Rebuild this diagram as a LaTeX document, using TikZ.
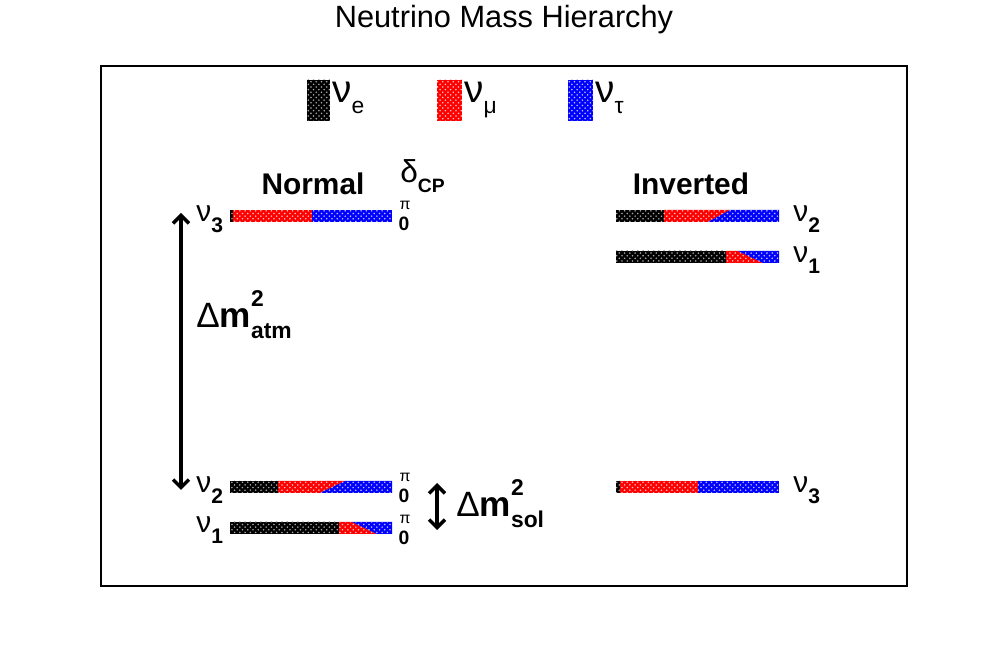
\documentclass[tikz,border=0pt]{standalone}
\usepackage{fontspec}
\setmainfont{Liberation Sans}
\usetikzlibrary{patterns,arrows.meta}
\tikzset{
  nue/.style={fill=black,postaction={pattern=crosshatch dots,pattern color=white!65!black}},
  numu/.style={fill=red,postaction={pattern=crosshatch dots,pattern color=white!75!red}},
  nutau/.style={fill=blue,postaction={pattern=crosshatch dots,pattern color=white!75!blue}},
  dmarrow/.style={line width=2pt,{Straight Barb[width=9pt,length=4.5pt]}-{Straight Barb[width=9pt,length=4.5pt]}},
  lbl/.style={anchor=base west,inner sep=0pt}
}
\newcommand\mixbar[6]{%
\fill[nue] (#2,#1) rectangle (#3,#1+12);
\fill[numu] (#3,#1) -- (#4,#1) -- (#5,#1+12) -- (#3,#1+12) -- cycle;
\fill[nutau] (#4,#1) -- (#6,#1) -- (#6,#1+12) -- (#5,#1+12) -- cycle;}
\newcommand\lvlfont{\fontsize{17}{20}\selectfont}
\newcommand\subb[1]{\raisebox{-0.35em}{\fontsize{12}{12}\selectfont\bfseries #1}}
\newcommand\dmsq[1]{Δ\textbf{m}\makebox[0pt][l]{\raisebox{0.62em}{\fontsize{13}{13}\selectfont\bfseries 2}}\raisebox{-0.3em}{\fontsize{13}{13}\selectfont\bfseries #1}}
\begin{document}
\begin{tikzpicture}[x=0.02cm,y=-0.02cm]
\useasboundingbox (0,0) rectangle (1008,651);
\node[font=\fontsize{17.5}{20}\selectfont] (title) at (504,20) {Neutrino Mass Hierarchy};
\draw[line width=0.8pt] (101,66) rectangle (907,586);
\fill[nue] (307,80) rectangle (330,121);
\fill[numu] (437,80) rectangle (462,121);
\fill[nutau] (568,80) rectangle (593,121);
\node[lbl,font=\fontsize{22}{24}\selectfont] (lege) at (332,103) {ν\raisebox{-0.26em}{\fontsize{13}{13}\selectfont e}};
\node[lbl,font=\fontsize{22}{24}\selectfont] (legmu) at (464,103) {ν\raisebox{-0.26em}{\fontsize{13}{13}\selectfont μ}};
\node[lbl,font=\fontsize{22}{24}\selectfont] (legtau) at (595,103) {ν\raisebox{-0.26em}{\fontsize{13}{13}\selectfont τ}};
\node[font=\fontsize{17}{20}\selectfont\bfseries,anchor=base] (normal) at (313,195) {Normal};
\node[font=\fontsize{17}{20}\selectfont\bfseries,anchor=base] (inverted) at (691,195) {Inverted};
\node[lbl,font=\fontsize{18}{20}\selectfont] (dcp) at (400,183) {δ\raisebox{-0.3em}{\fontsize{11}{11}\selectfont\bfseries CP}};
\mixbar{210}{230}{233}{312}{312}{392}
\mixbar{481}{230}{278}{345}{320}{392}
\mixbar{522}{230}{339}{352}{377}{392}
\mixbar{210}{616}{664}{730}{708}{779}
\mixbar{251}{616}{726}{738}{763}{779}
\mixbar{481}{616}{620}{698}{698}{779}
\foreach \y/\n in {205/a,477/b,519/c}{
\node[font=\fontsize{9}{9}\selectfont,inner sep=0pt] (pi\n) at (405,\y) {π};
\node[font=\fontsize{11}{11}\selectfont\bfseries,inner sep=0pt] (zero\n) at (404,\y+19) {0};}
\node[lbl,font=\lvlfont] (nnu3) at (196,222) {ν\subb{3}};
\node[lbl,font=\lvlfont] (nnu2) at (196,493) {ν\subb{2}};
\node[lbl,font=\lvlfont] (nnu1) at (196,533) {ν\subb{1}};
\node[lbl,font=\lvlfont] (inu2) at (793,222) {ν\subb{2}};
\node[lbl,font=\lvlfont] (inu1) at (793,263) {ν\subb{1}};
\node[lbl,font=\lvlfont] (inu3) at (793,493) {ν\subb{3}};
\coordinate (atmtop) at (181,213);
\coordinate (atmbot) at (181,490);
\coordinate (soltop) at (437,483);
\coordinate (solbot) at (437,530);
\draw[dmarrow] (atmtop) -- (atmbot);
\draw[dmarrow] (soltop) -- (solbot);
\node[lbl,font=\fontsize{20}{22}\selectfont] (atm) at (196,328) {\dmsq{atm}};
\node[lbl,font=\fontsize{20}{22}\selectfont] (sol) at (456,517) {\dmsq{sol}};
\end{tikzpicture}
\end{document}
